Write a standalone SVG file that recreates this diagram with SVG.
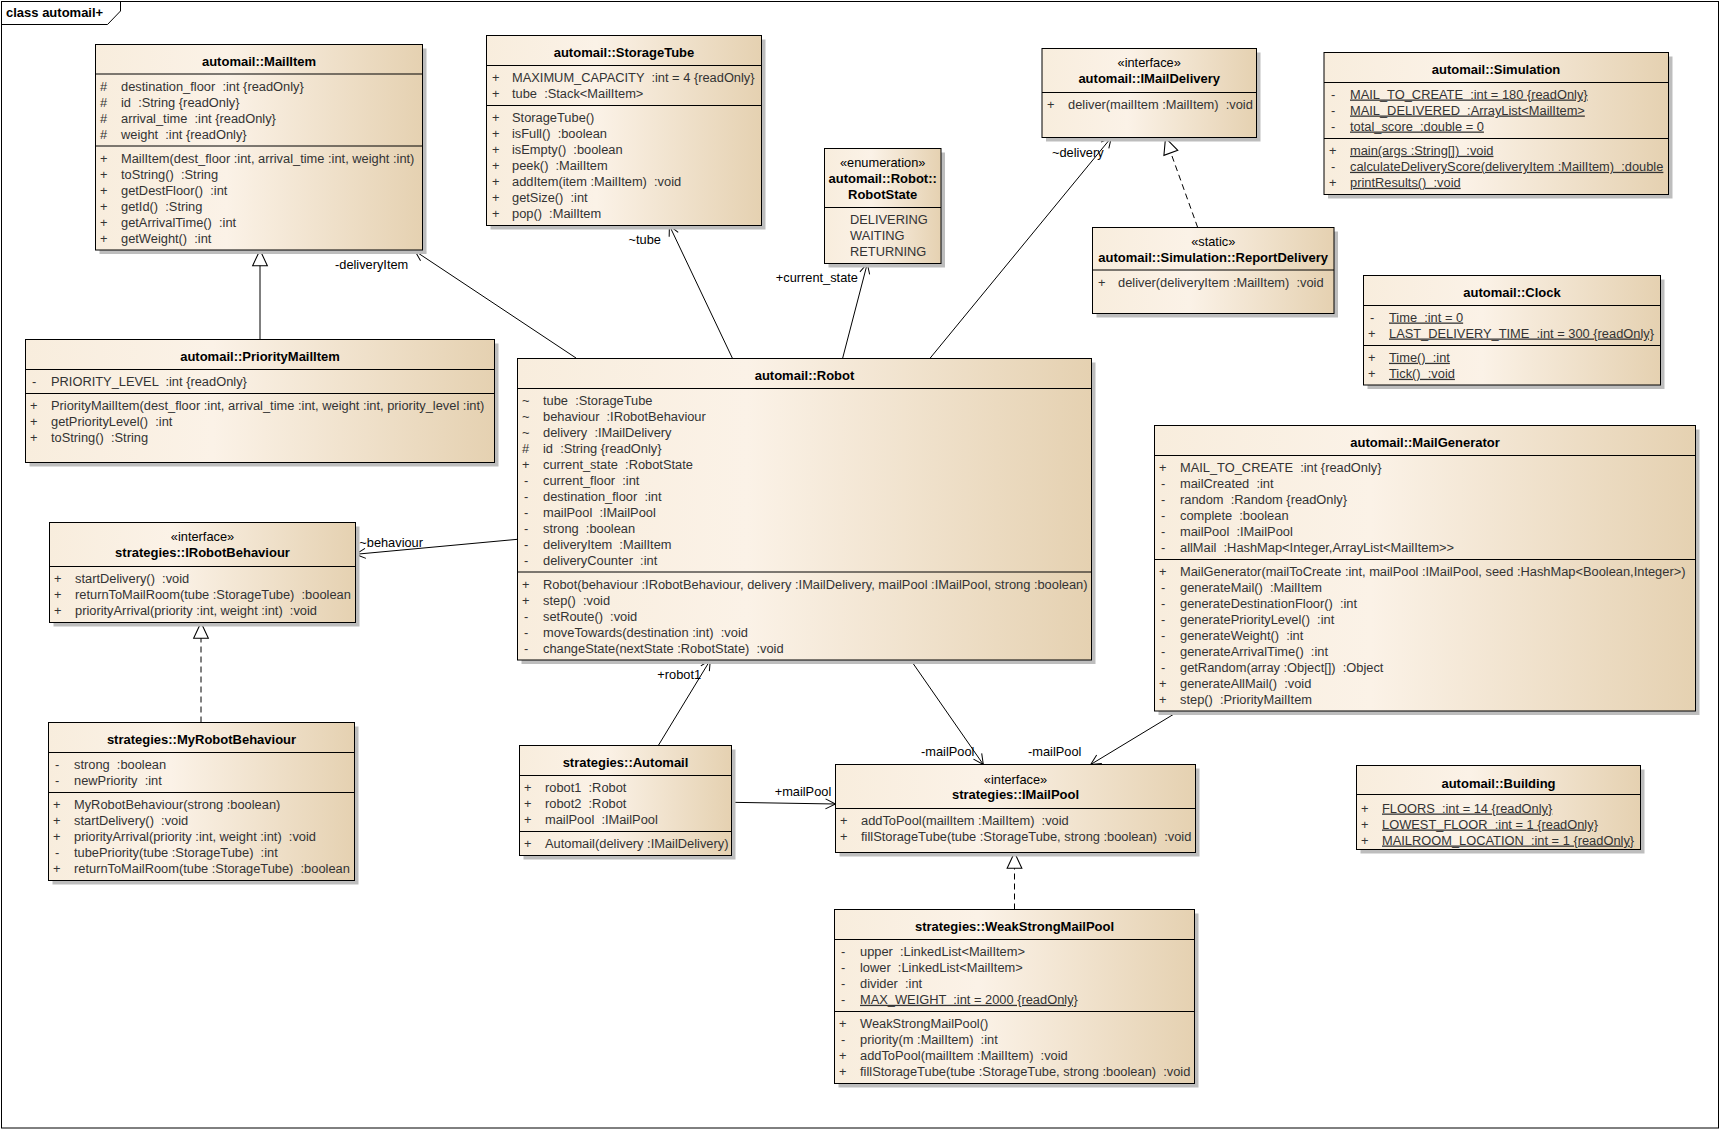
<svg xmlns="http://www.w3.org/2000/svg" width="1721" height="1131" viewBox="0 0 1721 1131">
<defs>
<linearGradient id="g" x1="0" y1="0" x2="1" y2="0">
<stop offset="0" stop-color="#F8EDDD"/>
<stop offset="0.4" stop-color="#FBF2E7"/>
<stop offset="1" stop-color="#E5D1B1"/>
</linearGradient>
<marker id="open" markerUnits="userSpaceOnUse" markerWidth="14" markerHeight="14" viewBox="-12 -7 14 14" refX="0" refY="0" orient="auto">
<path d="M-10,-5 L0,0 L-10,5" fill="none" stroke="#000" stroke-width="1"/>
</marker>
<marker id="tri" markerUnits="userSpaceOnUse" markerWidth="20" markerHeight="20" viewBox="-17 -9 19 18" refX="0" refY="0" orient="auto">
<path d="M-15,-7 L0,0 L-15,7 Z" fill="#fff" stroke="#000" stroke-width="1"/>
</marker>
</defs>
<style>
text{font-family:"Liberation Sans",Arial,sans-serif;font-size:13px;white-space:pre}
.box{fill:url(#g);stroke:#000;stroke-width:1}
.sh{fill:#bdbdbd}
.sep{stroke:#000;stroke-width:1}
.t{font-weight:bold;fill:#000;text-anchor:middle}
.s{fill:#000;text-anchor:middle;font-size:12.8px}
.m{fill:#333;font-size:12.85px}
.u{text-decoration:underline}
.c{fill:none;stroke:#000;stroke-width:1}
.d{fill:none;stroke:#000;stroke-width:1;stroke-dasharray:6 4}
.l{fill:#000;font-size:12.8px}
</style>
<rect x="0" y="0" width="1721" height="1131" fill="#fff"/>
<g id="frame">
<rect x="1.5" y="1.5" width="1717" height="1126.5" fill="none" stroke="#000"/>
<path d="M1.5,24.5 L107.5,24.5 L120.5,11 L120.5,1.5" fill="none" stroke="#000"/>
<text x="6" y="17" style="font-weight:bold">class automail+</text>
</g>

<g id="connectors">
<line class="c" x1="576" y1="358" x2="415" y2="251" marker-end="url(#open)"/>
<text class="l" x="335" y="269">-deliveryItem</text>
<line class="c" x1="260" y1="339.5" x2="260" y2="250" marker-end="url(#tri)"/>
<line class="c" x1="732.3" y1="358" x2="669.4" y2="225.5" marker-end="url(#open)"/>
<text class="l" x="628.5" y="243.8">~tube</text>
<line class="c" x1="842.7" y1="358" x2="867.3" y2="263.5" marker-end="url(#open)"/>
<text class="l" x="775.8" y="282.2">+current_state</text>
<line class="c" x1="930" y1="358.3" x2="1111.3" y2="137.5" marker-end="url(#open)"/>
<text class="l" x="1052" y="156.5">~delivery</text>
<line class="d" x1="1197.7" y1="227.5" x2="1165.5" y2="138" marker-end="url(#tri)"/>
<line class="c" x1="517.5" y1="539.3" x2="355.5" y2="554.3" marker-end="url(#open)"/>
<text class="l" x="359.3" y="546.8">~behaviour</text>
<line class="d" x1="201" y1="722.5" x2="201" y2="622.5" marker-end="url(#tri)"/>
<line class="c" x1="658.3" y1="745.5" x2="710.3" y2="660" marker-end="url(#open)"/>
<text class="l" x="657.3" y="678.8">+robot1</text>
<line class="c" x1="731.5" y1="802.3" x2="835.5" y2="804" marker-end="url(#open)"/>
<text class="l" x="774.7" y="796.2">+mailPool</text>
<line class="c" x1="910.7" y1="660" x2="983.3" y2="764.5" marker-end="url(#open)"/>
<text class="l" x="921" y="756.2">-mailPool</text>
<line class="c" x1="1179" y1="711" x2="1090.7" y2="764.5" marker-end="url(#open)"/>
<text class="l" x="1028" y="756.2">-mailPool</text>
<line class="d" x1="1014.5" y1="909.5" x2="1014.5" y2="852.5" marker-end="url(#tri)"/>
</g>

<g id="MailItem">
<rect class="sh" x="99.5" y="48.5" width="327" height="205.5"/>
<rect class="box" x="95.5" y="44.5" width="327" height="205.5"/>
<line class="sep" x1="95.5" y1="74" x2="422.5" y2="74"/>
<line class="sep" x1="95.5" y1="146" x2="422.5" y2="146"/>
<text class="t" x="259" y="65.5">automail::MailItem</text>
<text class="m" x="100" y="91">#</text><text class="m" x="121" y="91">destination_floor  :int {readOnly}</text>
<text class="m" x="100" y="107">#</text><text class="m" x="121" y="107">id  :String {readOnly}</text>
<text class="m" x="100" y="123">#</text><text class="m" x="121" y="123">arrival_time  :int {readOnly}</text>
<text class="m" x="100" y="139">#</text><text class="m" x="121" y="139">weight  :int {readOnly}</text>
<text class="m" x="100" y="163">+</text><text class="m" x="121" y="163">MailItem(dest_floor :int, arrival_time :int, weight :int)</text>
<text class="m" x="100" y="179">+</text><text class="m" x="121" y="179">toString()  :String</text>
<text class="m" x="100" y="195">+</text><text class="m" x="121" y="195">getDestFloor()  :int</text>
<text class="m" x="100" y="211">+</text><text class="m" x="121" y="211">getId()  :String</text>
<text class="m" x="100" y="227">+</text><text class="m" x="121" y="227">getArrivalTime()  :int</text>
<text class="m" x="100" y="243">+</text><text class="m" x="121" y="243">getWeight()  :int</text>
</g>

<g id="StorageTube">
<rect class="sh" x="490.5" y="39.5" width="275" height="190"/>
<rect class="box" x="486.5" y="35.5" width="275" height="190"/>
<line class="sep" x1="486.5" y1="65.5" x2="761.5" y2="65.5"/>
<line class="sep" x1="486.5" y1="105.5" x2="761.5" y2="105.5"/>
<text class="t" x="624" y="56.8">automail::StorageTube</text>
<text class="m" x="492" y="82">+</text><text class="m" x="512" y="82">MAXIMUM_CAPACITY  :int = 4 {readOnly}</text>
<text class="m" x="492" y="98">+</text><text class="m" x="512" y="98">tube  :Stack&lt;MailItem&gt;</text>
<text class="m" x="492" y="122">+</text><text class="m" x="512" y="122">StorageTube()</text>
<text class="m" x="492" y="138">+</text><text class="m" x="512" y="138">isFull()  :boolean</text>
<text class="m" x="492" y="154">+</text><text class="m" x="512" y="154">isEmpty()  :boolean</text>
<text class="m" x="492" y="170">+</text><text class="m" x="512" y="170">peek()  :MailItem</text>
<text class="m" x="492" y="186">+</text><text class="m" x="512" y="186">addItem(item :MailItem)  :void</text>
<text class="m" x="492" y="202">+</text><text class="m" x="512" y="202">getSize()  :int</text>
<text class="m" x="492" y="218">+</text><text class="m" x="512" y="218">pop()  :MailItem</text>
</g>

<g id="RobotState">
<rect class="sh" x="828.5" y="152.5" width="116.5" height="115"/>
<rect class="box" x="824.5" y="148.5" width="116.5" height="115"/>
<line class="sep" x1="824.5" y1="207.5" x2="941" y2="207.5"/>
<text class="s" x="882.7" y="167">«enumeration»</text>
<text class="t" x="882.7" y="183">automail::Robot::</text>
<text class="t" x="882.7" y="199">RobotState</text>
<text class="m" x="850" y="223.5">DELIVERING</text>
<text class="m" x="850" y="239.5">WAITING</text>
<text class="m" x="850" y="255.5">RETURNING</text>
</g>

<g id="IMailDelivery">
<rect class="sh" x="1046" y="52.5" width="214.5" height="89"/>
<rect class="box" x="1042" y="48.5" width="214.5" height="89"/>
<line class="sep" x1="1042" y1="92.5" x2="1256.5" y2="92.5"/>
<text class="s" x="1149.2" y="67">«interface»</text>
<text class="t" x="1149.2" y="83">automail::IMailDelivery</text>
<text class="m" x="1047" y="109">+</text><text class="m" x="1068" y="109">deliver(mailItem :MailItem)  :void</text>
</g>

<g id="Simulation">
<rect class="sh" x="1328" y="56.5" width="344.5" height="142"/>
<rect class="box" x="1324" y="52.5" width="344.5" height="142"/>
<line class="sep" x1="1324" y1="82.5" x2="1668.5" y2="82.5"/>
<line class="sep" x1="1324" y1="138.5" x2="1668.5" y2="138.5"/>
<text class="t" x="1496" y="73.8">automail::Simulation</text>
<text class="m" x="1331" y="98.5">-</text><text class="m u" x="1350" y="98.5">MAIL_TO_CREATE  :int = 180 {readOnly}</text>
<text class="m" x="1331" y="114.5">-</text><text class="m u" x="1350" y="114.5">MAIL_DELIVERED  :ArrayList&lt;MailItem&gt;</text>
<text class="m" x="1331" y="130.5">-</text><text class="m u" x="1350" y="130.5">total_score  :double = 0</text>
<text class="m" x="1329" y="154.8">+</text><text class="m u" x="1350" y="154.8">main(args :String[])  :void</text>
<text class="m" x="1331" y="170.8">-</text><text class="m u" x="1350" y="170.8">calculateDeliveryScore(deliveryItem :MailItem)  :double</text>
<text class="m" x="1329" y="186.8">+</text><text class="m u" x="1350" y="186.8">printResults()  :void</text>
</g>

<g id="ReportDelivery">
<rect class="sh" x="1096.5" y="231.5" width="241.5" height="86"/>
<rect class="box" x="1092.5" y="227.5" width="241.5" height="86"/>
<line class="sep" x1="1092.5" y1="270" x2="1334" y2="270"/>
<text class="s" x="1213.2" y="246.2">«static»</text>
<text class="t" x="1213.2" y="261.8">automail::Simulation::ReportDelivery</text>
<text class="m" x="1098" y="286.8">+</text><text class="m" x="1118" y="286.8">deliver(deliveryItem :MailItem)  :void</text>
</g>

<g id="Clock">
<rect class="sh" x="1367.5" y="279.5" width="297" height="109.5"/>
<rect class="box" x="1363.5" y="275.5" width="297" height="109.5"/>
<line class="sep" x1="1363.5" y1="305.5" x2="1660.5" y2="305.5"/>
<line class="sep" x1="1363.5" y1="345.5" x2="1660.5" y2="345.5"/>
<text class="t" x="1512" y="296.8">automail::Clock</text>
<text class="m" x="1370" y="321.5">-</text><text class="m u" x="1389" y="321.5">Time  :int = 0</text>
<text class="m" x="1368" y="337.5">+</text><text class="m u" x="1389" y="337.5">LAST_DELIVERY_TIME  :int = 300 {readOnly}</text>
<text class="m" x="1368" y="361.8">+</text><text class="m u" x="1389" y="361.8">Time()  :int</text>
<text class="m" x="1368" y="377.8">+</text><text class="m u" x="1389" y="377.8">Tick()  :void</text>
</g>

<g id="PriorityMailItem">
<rect class="sh" x="29.5" y="343.5" width="469" height="123"/>
<rect class="box" x="25.5" y="339.5" width="469" height="123"/>
<line class="sep" x1="25.5" y1="369.5" x2="494.5" y2="369.5"/>
<line class="sep" x1="25.5" y1="393.5" x2="494.5" y2="393.5"/>
<text class="t" x="260" y="360.5">automail::PriorityMailItem</text>
<text class="m" x="32" y="385.8">-</text><text class="m" x="51" y="385.8">PRIORITY_LEVEL  :int {readOnly}</text>
<text class="m" x="30" y="409.8">+</text><text class="m" x="51" y="409.8">PriorityMailItem(dest_floor :int, arrival_time :int, weight :int, priority_level :int)</text>
<text class="m" x="30" y="425.8">+</text><text class="m" x="51" y="425.8">getPriorityLevel()  :int</text>
<text class="m" x="30" y="441.8">+</text><text class="m" x="51" y="441.8">toString()  :String</text>
</g>

<g id="IRobotBehaviour">
<rect class="sh" x="53.5" y="526.5" width="306" height="100"/>
<rect class="box" x="49.5" y="522.5" width="306" height="100"/>
<line class="sep" x1="49.5" y1="566.5" x2="355.5" y2="566.5"/>
<text class="s" x="202.5" y="541.2">«interface»</text>
<text class="t" x="202.5" y="556.8">strategies::IRobotBehaviour</text>
<text class="m" x="54" y="582.8">+</text><text class="m" x="75" y="582.8">startDelivery()  :void</text>
<text class="m" x="54" y="598.8">+</text><text class="m" x="75" y="598.8">returnToMailRoom(tube :StorageTube)  :boolean</text>
<text class="m" x="54" y="614.8">+</text><text class="m" x="75" y="614.8">priorityArrival(priority :int, weight :int)  :void</text>
</g>

<g id="Robot">
<rect class="sh" x="521.5" y="362.5" width="574" height="301.5"/>
<rect class="box" x="517.5" y="358.5" width="574" height="301.5"/>
<line class="sep" x1="517.5" y1="388.5" x2="1091.5" y2="388.5"/>
<line class="sep" x1="517.5" y1="572" x2="1091.5" y2="572"/>
<text class="t" x="804.5" y="379.8">automail::Robot</text>
<text class="m" x="522" y="405.2">~</text><text class="m" x="543" y="405.2">tube  :StorageTube</text>
<text class="m" x="522" y="421.2">~</text><text class="m" x="543" y="421.2">behaviour  :IRobotBehaviour</text>
<text class="m" x="522" y="437.2">~</text><text class="m" x="543" y="437.2">delivery  :IMailDelivery</text>
<text class="m" x="522" y="453.2">#</text><text class="m" x="543" y="453.2">id  :String {readOnly}</text>
<text class="m" x="522" y="469.2">+</text><text class="m" x="543" y="469.2">current_state  :RobotState</text>
<text class="m" x="524" y="485.2">-</text><text class="m" x="543" y="485.2">current_floor  :int</text>
<text class="m" x="524" y="501.2">-</text><text class="m" x="543" y="501.2">destination_floor  :int</text>
<text class="m" x="524" y="517.2">-</text><text class="m" x="543" y="517.2">mailPool  :IMailPool</text>
<text class="m" x="524" y="533.2">-</text><text class="m" x="543" y="533.2">strong  :boolean</text>
<text class="m" x="524" y="549.2">-</text><text class="m" x="543" y="549.2">deliveryItem  :MailItem</text>
<text class="m" x="524" y="565.2">-</text><text class="m" x="543" y="565.2">deliveryCounter  :int</text>
<text class="m" x="522" y="588.8">+</text><text class="m" x="543" y="588.8">Robot(behaviour :IRobotBehaviour, delivery :IMailDelivery, mailPool :IMailPool, strong :boolean)</text>
<text class="m" x="522" y="604.8">+</text><text class="m" x="543" y="604.8">step()  :void</text>
<text class="m" x="524" y="620.8">-</text><text class="m" x="543" y="620.8">setRoute()  :void</text>
<text class="m" x="524" y="636.8">-</text><text class="m" x="543" y="636.8">moveTowards(destination :int)  :void</text>
<text class="m" x="524" y="652.8">-</text><text class="m" x="543" y="652.8">changeState(nextState :RobotState)  :void</text>
</g>

<g id="MailGenerator">
<rect class="sh" x="1158.5" y="429.5" width="541" height="285.5"/>
<rect class="box" x="1154.5" y="425.5" width="541" height="285.5"/>
<line class="sep" x1="1154.5" y1="455.5" x2="1695.5" y2="455.5"/>
<line class="sep" x1="1154.5" y1="559.5" x2="1695.5" y2="559.5"/>
<text class="t" x="1425" y="446.8">automail::MailGenerator</text>
<text class="m" x="1159" y="471.8">+</text><text class="m" x="1180" y="471.8">MAIL_TO_CREATE  :int {readOnly}</text>
<text class="m" x="1161" y="487.8">-</text><text class="m" x="1180" y="487.8">mailCreated  :int</text>
<text class="m" x="1161" y="503.8">-</text><text class="m" x="1180" y="503.8">random  :Random {readOnly}</text>
<text class="m" x="1161" y="519.8">-</text><text class="m" x="1180" y="519.8">complete  :boolean</text>
<text class="m" x="1161" y="535.8">-</text><text class="m" x="1180" y="535.8">mailPool  :IMailPool</text>
<text class="m" x="1161" y="551.8">-</text><text class="m" x="1180" y="551.8">allMail  :HashMap&lt;Integer,ArrayList&lt;MailItem&gt;&gt;</text>
<text class="m" x="1159" y="576.2">+</text><text class="m" x="1180" y="576.2">MailGenerator(mailToCreate :int, mailPool :IMailPool, seed :HashMap&lt;Boolean,Integer&gt;)</text>
<text class="m" x="1161" y="592.2">-</text><text class="m" x="1180" y="592.2">generateMail()  :MailItem</text>
<text class="m" x="1161" y="608.2">-</text><text class="m" x="1180" y="608.2">generateDestinationFloor()  :int</text>
<text class="m" x="1161" y="624.2">-</text><text class="m" x="1180" y="624.2">generatePriorityLevel()  :int</text>
<text class="m" x="1161" y="640.2">-</text><text class="m" x="1180" y="640.2">generateWeight()  :int</text>
<text class="m" x="1161" y="656.2">-</text><text class="m" x="1180" y="656.2">generateArrivalTime()  :int</text>
<text class="m" x="1161" y="672.2">-</text><text class="m" x="1180" y="672.2">getRandom(array :Object[])  :Object</text>
<text class="m" x="1159" y="688.2">+</text><text class="m" x="1180" y="688.2">generateAllMail()  :void</text>
<text class="m" x="1159" y="704.2">+</text><text class="m" x="1180" y="704.2">step()  :PriorityMailItem</text>
</g>

<g id="MyRobotBehaviour">
<rect class="sh" x="52.5" y="726.5" width="306" height="158"/>
<rect class="box" x="48.5" y="722.5" width="306" height="158"/>
<line class="sep" x1="48.5" y1="752.5" x2="354.5" y2="752.5"/>
<line class="sep" x1="48.5" y1="792.5" x2="354.5" y2="792.5"/>
<text class="t" x="201.5" y="743.8">strategies::MyRobotBehaviour</text>
<text class="m" x="55" y="768.8">-</text><text class="m" x="74" y="768.8">strong  :boolean</text>
<text class="m" x="55" y="784.8">-</text><text class="m" x="74" y="784.8">newPriority  :int</text>
<text class="m" x="53" y="809.2">+</text><text class="m" x="74" y="809.2">MyRobotBehaviour(strong :boolean)</text>
<text class="m" x="53" y="825.2">+</text><text class="m" x="74" y="825.2">startDelivery()  :void</text>
<text class="m" x="53" y="841.2">+</text><text class="m" x="74" y="841.2">priorityArrival(priority :int, weight :int)  :void</text>
<text class="m" x="55" y="857.2">-</text><text class="m" x="74" y="857.2">tubePriority(tube :StorageTube)  :int</text>
<text class="m" x="53" y="873.2">+</text><text class="m" x="74" y="873.2">returnToMailRoom(tube :StorageTube)  :boolean</text>
</g>

<g id="Automail">
<rect class="sh" x="523.5" y="749.5" width="212" height="110"/>
<rect class="box" x="519.5" y="745.5" width="212" height="110"/>
<line class="sep" x1="519.5" y1="775.5" x2="731.5" y2="775.5"/>
<line class="sep" x1="519.5" y1="831.5" x2="731.5" y2="831.5"/>
<text class="t" x="625.5" y="766.8">strategies::Automail</text>
<text class="m" x="524" y="791.8">+</text><text class="m" x="545" y="791.8">robot1  :Robot</text>
<text class="m" x="524" y="807.8">+</text><text class="m" x="545" y="807.8">robot2  :Robot</text>
<text class="m" x="524" y="823.8">+</text><text class="m" x="545" y="823.8">mailPool  :IMailPool</text>
<text class="m" x="524" y="847.8">+</text><text class="m" x="545" y="847.8">Automail(delivery :IMailDelivery)</text>
</g>

<g id="IMailPool">
<rect class="sh" x="839.5" y="768.5" width="360" height="88"/>
<rect class="box" x="835.5" y="764.5" width="360" height="88"/>
<line class="sep" x1="835.5" y1="808.5" x2="1195.5" y2="808.5"/>
<text class="s" x="1015.5" y="783.5">«interface»</text>
<text class="t" x="1015.5" y="798.8">strategies::IMailPool</text>
<text class="m" x="840" y="824.8">+</text><text class="m" x="861" y="824.8">addToPool(mailItem :MailItem)  :void</text>
<text class="m" x="840" y="840.8">+</text><text class="m" x="861" y="840.8">fillStorageTube(tube :StorageTube, strong :boolean)  :void</text>
</g>

<g id="WeakStrongMailPool">
<rect class="sh" x="838.5" y="913.5" width="360" height="174"/>
<rect class="box" x="834.5" y="909.5" width="360" height="174"/>
<line class="sep" x1="834.5" y1="939.5" x2="1194.5" y2="939.5"/>
<line class="sep" x1="834.5" y1="1011.5" x2="1194.5" y2="1011.5"/>
<text class="t" x="1014.5" y="930.8">strategies::WeakStrongMailPool</text>
<text class="m" x="841" y="955.8">-</text><text class="m" x="860" y="955.8">upper  :LinkedList&lt;MailItem&gt;</text>
<text class="m" x="841" y="971.8">-</text><text class="m" x="860" y="971.8">lower  :LinkedList&lt;MailItem&gt;</text>
<text class="m" x="841" y="987.8">-</text><text class="m" x="860" y="987.8">divider  :int</text>
<text class="m" x="841" y="1003.8">-</text><text class="m u" x="860" y="1003.8">MAX_WEIGHT  :int = 2000 {readOnly}</text>
<text class="m" x="839" y="1027.8">+</text><text class="m" x="860" y="1027.8">WeakStrongMailPool()</text>
<text class="m" x="841" y="1043.8">-</text><text class="m" x="860" y="1043.8">priority(m :MailItem)  :int</text>
<text class="m" x="839" y="1059.8">+</text><text class="m" x="860" y="1059.8">addToPool(mailItem :MailItem)  :void</text>
<text class="m" x="839" y="1075.8">+</text><text class="m" x="860" y="1075.8">fillStorageTube(tube :StorageTube, strong :boolean)  :void</text>
</g>

<g id="Building">
<rect class="sh" x="1360.5" y="769.5" width="284" height="84"/>
<rect class="box" x="1356.5" y="765.5" width="284" height="84"/>
<line class="sep" x1="1356.5" y1="794.5" x2="1640.5" y2="794.5"/>
<text class="t" x="1498.5" y="787.8">automail::Building</text>
<text class="m" x="1361" y="812.5">+</text><text class="m u" x="1382" y="812.5">FLOORS  :int = 14 {readOnly}</text>
<text class="m" x="1361" y="828.5">+</text><text class="m u" x="1382" y="828.5">LOWEST_FLOOR  :int = 1 {readOnly}</text>
<text class="m" x="1361" y="844.5">+</text><text class="m u" x="1382" y="844.5">MAILROOM_LOCATION  :int = 1 {readOnly}</text>
</g>
</svg>
